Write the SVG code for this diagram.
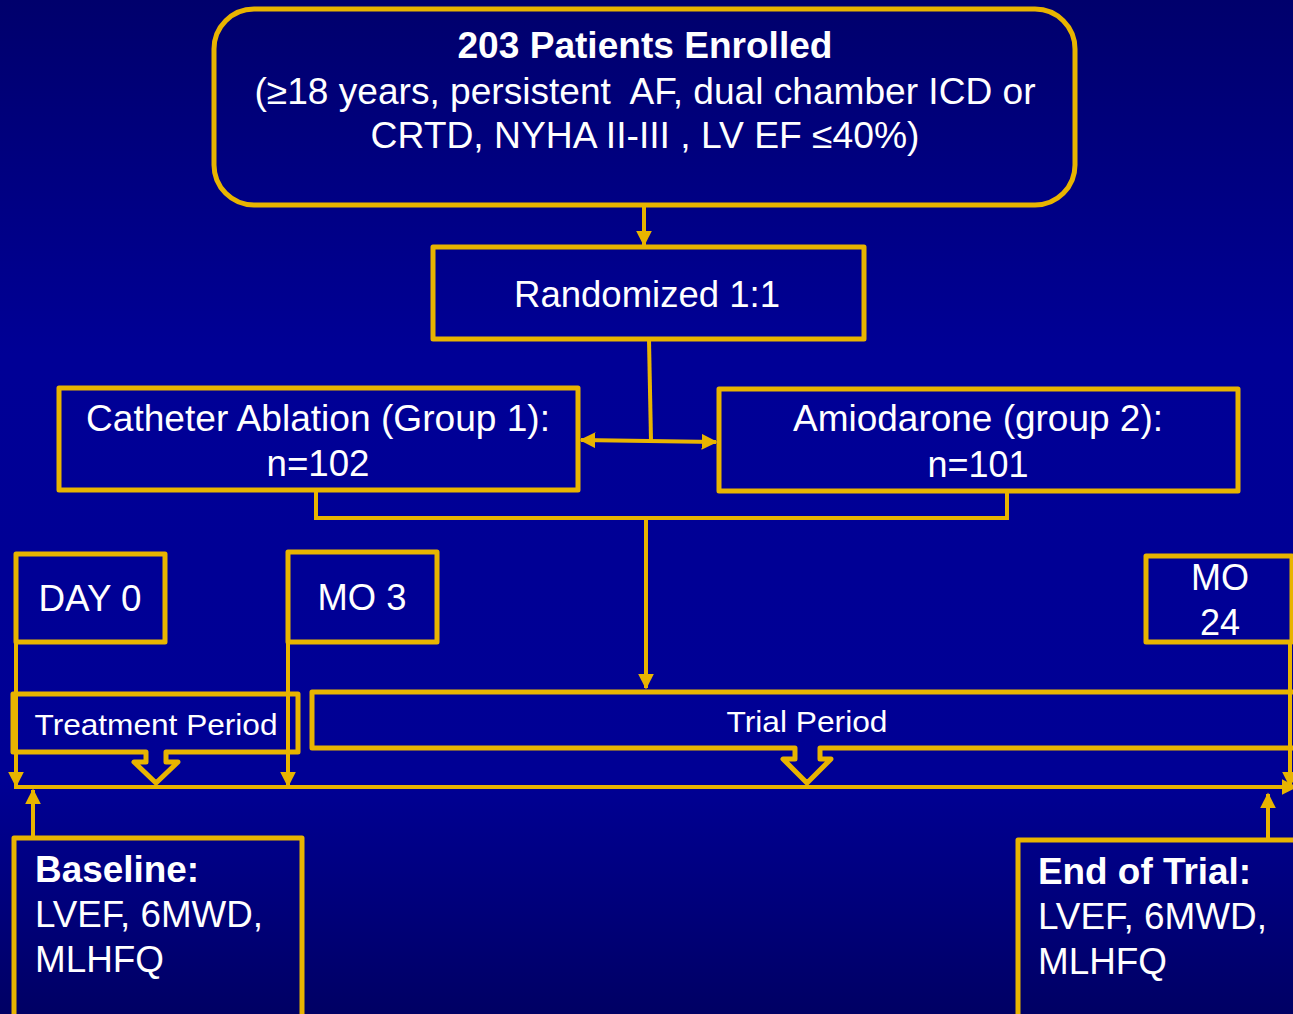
<svg xmlns="http://www.w3.org/2000/svg" width="1293" height="1014" viewBox="0 0 1293 1014">
  <defs>
    <linearGradient id="bg" x1="0" y1="0" x2="0" y2="1">
      <stop offset="0" stop-color="#00006c"/>
      <stop offset="0.35" stop-color="#000096"/>
      <stop offset="0.77" stop-color="#000094"/>
      <stop offset="1" stop-color="#000064"/>
    </linearGradient>
    <marker id="ah" viewBox="0 0 10 10" refX="9" refY="5" markerWidth="4" markerHeight="4" markerUnits="strokeWidth" orient="auto">
      <path d="M0,0 L10,5 L0,10 Z" fill="#e8b400"/>
    </marker>
    <marker id="ahs" viewBox="0 0 10 10" refX="1" refY="5" markerWidth="4" markerHeight="4" markerUnits="strokeWidth" orient="auto">
      <path d="M10,0 L0,5 L10,10 Z" fill="#e8b400"/>
    </marker>
  </defs>
  <style>
    .box { fill: none; stroke: #e8b400; stroke-width: 5; stroke-linejoin: round; }
    .ln { fill: none; stroke: #e8b400; stroke-width: 4; }
    .t { fill: #ffffff; font-family: "Liberation Sans", Arial, sans-serif; font-size: 36px; }
    .c { text-anchor: middle; }
    .b { font-weight: bold; }
    .pre { white-space: pre; }
  </style>
  <rect x="0" y="0" width="1293" height="1014" fill="url(#bg)"/>

  <g id="connectors">
    <line class="ln" x1="644" y1="206" x2="644" y2="245" marker-end="url(#ah)"/>
    <line class="ln" x1="649" y1="340" x2="651" y2="441"/>
    <line class="ln" x1="581" y1="440" x2="716" y2="442" marker-start="url(#ahs)" marker-end="url(#ah)"/>
    <polyline class="ln" points="316,491 316,518 1007,518 1007,492"/>
    <line class="ln" x1="646" y1="518" x2="646" y2="688" marker-end="url(#ah)"/>
    <line class="ln" x1="16" y1="642" x2="16" y2="786" marker-end="url(#ah)"/>
    <line class="ln" x1="288" y1="642" x2="288" y2="786" marker-end="url(#ah)"/>
    <line class="ln" x1="1290" y1="642" x2="1290" y2="786" marker-end="url(#ah)"/>
    <line class="ln" x1="14" y1="787" x2="1296" y2="787" marker-end="url(#ah)"/>
    <line class="ln" x1="33" y1="836" x2="33" y2="790" marker-end="url(#ah)"/>
    <line class="ln" x1="1268" y1="838" x2="1268" y2="794" marker-end="url(#ah)"/>
  </g>

  <g id="enrolled">
    <rect class="box" x="214" y="9" width="861" height="196" rx="40"/>
    <text class="t c b" x="645" y="58" textLength="375" lengthAdjust="spacingAndGlyphs">203 Patients Enrolled</text>
    <text class="t c pre" xml:space="preserve" x="645" y="104" textLength="781" lengthAdjust="spacingAndGlyphs">(≥18 years, persistent  AF, dual chamber ICD or</text>
    <text class="t c" x="645" y="148" textLength="549" lengthAdjust="spacingAndGlyphs">CRTD, NYHA II-III , LV EF ≤40%)</text>
  </g>

  <g id="randomized">
    <rect class="box" x="433" y="247" width="431" height="92"/>
    <text class="t c" x="647" y="307" textLength="266" lengthAdjust="spacingAndGlyphs">Randomized 1:1</text>
  </g>

  <g id="group1">
    <rect class="box" x="59" y="388" width="519" height="102"/>
    <text class="t c" x="318" y="431" textLength="464" lengthAdjust="spacingAndGlyphs">Catheter Ablation (Group 1):</text>
    <text class="t c" x="318" y="476" textLength="103" lengthAdjust="spacingAndGlyphs">n=102</text>
  </g>

  <g id="group2">
    <rect class="box" x="719" y="389" width="519" height="102"/>
    <text class="t c" x="978" y="431" textLength="370" lengthAdjust="spacingAndGlyphs">Amiodarone (group 2):</text>
    <text class="t c" x="978" y="477" textLength="101" lengthAdjust="spacingAndGlyphs">n=101</text>
  </g>

  <g id="day0">
    <rect class="box" x="16" y="554" width="149" height="88"/>
    <text class="t c" x="90" y="611" textLength="103" lengthAdjust="spacingAndGlyphs">DAY 0</text>
  </g>

  <g id="mo3">
    <rect class="box" x="288" y="552" width="149" height="90"/>
    <text class="t c" x="362" y="610" textLength="89" lengthAdjust="spacingAndGlyphs">MO 3</text>
  </g>

  <g id="mo24">
    <rect class="box" x="1146" y="556" width="146" height="86"/>
    <text class="t c" x="1220" y="590">MO</text>
    <text class="t c" x="1220" y="635">24</text>
  </g>

  <g id="treatment">
    <path class="box" d="M13,694 H298 V752 H166 V762 H178 L156,783 L134,762 H146 V752 H13 Z"/>
    <text class="t c" x="156" y="735" style="font-size:30px" textLength="243" lengthAdjust="spacingAndGlyphs">Treatment Period</text>
  </g>

  <g id="trial">
    <path class="box" d="M312,692 H1300 V748 H820 V759 H831 L807,783 L783,759 H795 V748 H312 Z"/>
    <text class="t c" x="807" y="732" style="font-size:30px" textLength="161" lengthAdjust="spacingAndGlyphs">Trial Period</text>
  </g>

  <g id="baseline">
    <rect class="box" x="14" y="838" width="288" height="190"/>
    <text class="t b" x="35" y="882" textLength="164" lengthAdjust="spacingAndGlyphs">Baseline:</text>
    <text class="t" x="35" y="927" textLength="228" lengthAdjust="spacingAndGlyphs">LVEF, 6MWD,</text>
    <text class="t" x="35" y="972" textLength="129" lengthAdjust="spacingAndGlyphs">MLHFQ</text>
  </g>

  <g id="endtrial">
    <rect class="box" x="1018" y="840" width="290" height="190"/>
    <text class="t b" x="1038" y="884" textLength="213" lengthAdjust="spacingAndGlyphs">End of Trial:</text>
    <text class="t" x="1038" y="929" textLength="229" lengthAdjust="spacingAndGlyphs">LVEF, 6MWD,</text>
    <text class="t" x="1038" y="974" textLength="129" lengthAdjust="spacingAndGlyphs">MLHFQ</text>
  </g>
</svg>
